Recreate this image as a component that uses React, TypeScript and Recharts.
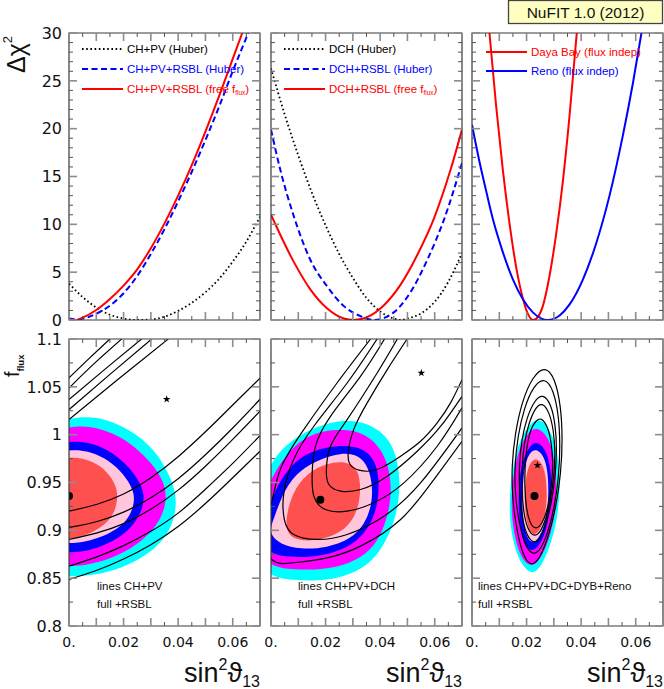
import React from "react";
import { ComposedChart, Line, Scatter, XAxis, YAxis, ReferenceArea } from "recharts";

type Pt = [number, number];

// ---------- top row: delta chi^2 vs sin^2 theta13 ----------
const chPvHuber: Pt[] = [[0, 3.8], [0.005, 2.4], [0.01, 1.3], [0.015, 0.55], [0.02, 0.15], [0.025, 0], [0.03, 0.05], [0.035, 0.35], [0.04, 0.95], [0.045, 1.8], [0.05, 2.9], [0.055, 4.3], [0.06, 6.1], [0.065, 8.2], [0.07, 10.8]];
const chPvRsblHuber: Pt[] = [[0, 0.15], [0.003, 0.05], [0.006, 0.2], [0.01, 0.65], [0.015, 1.5], [0.02, 2.8], [0.025, 4.6], [0.03, 6.9], [0.035, 9.5], [0.04, 12.4], [0.045, 15.5], [0.05, 18.8], [0.055, 22.3], [0.06, 26.0], [0.0657, 30]];
const chPvRsblFree: Pt[] = [[0, 0.05], [0.0025, 0], [0.005, 0.25], [0.01, 1.05], [0.015, 2.2], [0.02, 3.6], [0.025, 5.3], [0.03, 7.5], [0.035, 10.1], [0.04, 13.0], [0.045, 16.2], [0.05, 19.7], [0.055, 23.4], [0.06, 27.3], [0.0635, 30]];

const dchHuber: Pt[] = [[0, 26.3], [0.005, 21.5], [0.01, 17.2], [0.015, 13.3], [0.02, 9.9], [0.025, 6.9], [0.03, 4.4], [0.035, 2.3], [0.04, 0.9], [0.045, 0.15], [0.0475, 0], [0.05, 0.15], [0.055, 0.7], [0.06, 1.9], [0.065, 4.0], [0.07, 7.0]];
const dchRsblHuber: Pt[] = [[0, 19.9], [0.0035, 15.6], [0.0083, 10.9], [0.0144, 6.3], [0.0206, 3.5], [0.0267, 1.45], [0.0328, 0.4], [0.0377, 0], [0.045, 0.8], [0.0511, 2.9], [0.0573, 6.3], [0.0634, 10.5], [0.07, 16.4]];
const dchRsblFree: Pt[] = [[0, 11.0], [0.0083, 6.1], [0.0144, 3.2], [0.0206, 1.2], [0.0267, 0.16], [0.0303, 0], [0.0352, 0.3], [0.0414, 1.55], [0.0475, 3.7], [0.0536, 6.8], [0.0597, 10.6], [0.0658, 15.7], [0.07, 19.9]];

const dayaBay: Pt[] = [[0.0064, 30], [0.0088, 22.5], [0.0113, 15.7], [0.0137, 10.2], [0.0162, 5.5], [0.0186, 2.3], [0.0204, 0.7], [0.0225, 0], [0.0241, 0.3], [0.0259, 1.4], [0.0284, 4.6], [0.0308, 8.9], [0.0333, 14.5], [0.0357, 21.2], [0.0384, 30]];
const reno: Pt[] = [[0, 20.4], [0.0027, 16.6], [0.0051, 13.6], [0.0076, 10.6], [0.0113, 7.1], [0.0149, 4.3], [0.0186, 2.2], [0.0223, 0.8], [0.0278, 0], [0.0321, 0.47], [0.0357, 1.6], [0.0406, 4.2], [0.0455, 8.0], [0.0504, 13.0], [0.0553, 19.3], [0.059, 24.8], [0.0621, 30]];

// ---------- bottom row: f_flux vs sin^2 theta13 ----------
// panel 1: full +RSBL regions
const cyanP1: Pt[] = [[-0.015, 1.005], [0, 1.0175], [0.008, 1.019], [0.016, 1.014], [0.024, 1.002], [0.031, 0.985], [0.036, 0.963], [0.0395, 0.939], [0.039, 0.913], [0.035, 0.89], [0.028, 0.873], [0.019, 0.86], [0.009, 0.853], [0, 0.851], [-0.015, 0.856]];
const magentaP1: Pt[] = [[-0.015, 0.996], [0, 1.009], [0.008, 1.009], [0.016, 1.002], [0.023, 0.99], [0.029, 0.974], [0.034, 0.956], [0.036, 0.937], [0.0345, 0.916], [0.03, 0.897], [0.023, 0.881], [0.015, 0.87], [0.007, 0.864], [0, 0.862], [-0.015, 0.866]];
const blueP1: Pt[] = [[-0.015, 0.983], [0, 0.994], [0.007, 0.992], [0.014, 0.985], [0.02, 0.972], [0.0252, 0.955], [0.028, 0.937], [0.0265, 0.918], [0.0225, 0.901], [0.016, 0.888], [0.008, 0.879], [0, 0.876], [-0.015, 0.879]];
const pinkP1: Pt[] = [[-0.015, 0.976], [0, 0.985], [0.007, 0.983], [0.013, 0.976], [0.0188, 0.963], [0.0228, 0.947], [0.0243, 0.934], [0.0228, 0.917], [0.0192, 0.904], [0.013, 0.894], [0.006, 0.888], [0, 0.886], [-0.015, 0.888]];
const redP1: Pt[] = [[-0.015, 0.969], [0, 0.977], [0.006, 0.975], [0.0115, 0.968], [0.0158, 0.955], [0.0181, 0.94], [0.0173, 0.923], [0.0148, 0.91], [0.0097, 0.899], [0.004, 0.893], [0, 0.891], [-0.015, 0.893]];

// panel 1: CH+PV contour lines
const p1Up1: Pt[] = [[0, 1.0593], [0.0075, 1.08], [0.015, 1.1]];
const p1Up2: Pt[] = [[0, 1.0488], [0.0095, 1.075], [0.0193, 1.1]];
const p1Up3: Pt[] = [[0, 1.0367], [0.013, 1.068], [0.0266, 1.1]];
const p1Up4: Pt[] = [[0, 1.0262], [0.015, 1.063], [0.0303, 1.1]];
const p1Up5: Pt[] = [[0, 1.0158], [0.018, 1.058], [0.0364, 1.1]];
const p1Lo1: Pt[] = [[0, 0.92], [0.01, 0.927], [0.02, 0.938], [0.03, 0.955], [0.04, 0.977], [0.05, 1.003], [0.06, 1.031], [0.07, 1.059]];
const p1Lo2: Pt[] = [[0, 0.903], [0.01, 0.909], [0.02, 0.919], [0.03, 0.934], [0.04, 0.954], [0.05, 0.979], [0.06, 1.007], [0.07, 1.037]];
const p1Lo3: Pt[] = [[0, 0.8905], [0.01, 0.897], [0.02, 0.907], [0.03, 0.922], [0.04, 0.942], [0.05, 0.967], [0.06, 0.995], [0.07, 1.0245]];
const p1Lo4: Pt[] = [[0, 0.8626], [0.01, 0.872], [0.02, 0.884], [0.03, 0.899], [0.04, 0.918], [0.05, 0.943], [0.06, 0.97], [0.07, 0.999]];
const p1Lo5: Pt[] = [[0, 0.8487], [0.01, 0.858], [0.02, 0.87], [0.03, 0.885], [0.04, 0.904], [0.05, 0.928], [0.06, 0.955], [0.07, 0.9827]];
const p1Best: Pt[] = [[0, 0.936]];
const p1Star: Pt[] = [[0.0358, 1.037]];

// panel 2: full +RSBL regions
const cyanP2: Pt[] = [[-0.006, 0.93], [0, 0.972], [0.0059, 0.991], [0.0144, 1.006], [0.023, 1.014], [0.0303, 1.015], [0.0368, 1.01], [0.0425, 0.998], [0.0457, 0.981], [0.0472, 0.957], [0.047, 0.932], [0.045, 0.907], [0.0412, 0.883], [0.0355, 0.863], [0.0267, 0.851], [0.0169, 0.847], [0.0083, 0.848], [0, 0.851], [-0.006, 0.87]];
const magentaP2: Pt[] = [[-0.006, 0.91], [0, 0.9566], [0.0083, 0.99], [0.0169, 1.003], [0.0242, 1.0055], [0.0316, 1.0045], [0.038, 0.994], [0.0425, 0.974], [0.0441, 0.9496], [0.0437, 0.9253], [0.0411, 0.9], [0.0368, 0.879], [0.0291, 0.865], [0.0193, 0.8588], [0.0083, 0.8588], [0, 0.8616], [-0.006, 0.88]];
const blueP2: Pt[] = [[-0.005, 0.9], [0, 0.9305], [0.0034, 0.9531], [0.0095, 0.9745], [0.0169, 0.985], [0.0255, 0.9893], [0.0331, 0.987], [0.0381, 0.9745], [0.0397, 0.9531], [0.0392, 0.9288], [0.0369, 0.9075], [0.0318, 0.888], [0.023, 0.8758], [0.0132, 0.8717], [0.0047, 0.8724], [0, 0.876], [-0.005, 0.89]];
const pinkP2: Pt[] = [[0.001, 0.9113], [0.0047, 0.9427], [0.0108, 0.9636], [0.0181, 0.9747], [0.0255, 0.981], [0.0322, 0.9792], [0.0359, 0.9653], [0.0373, 0.9444], [0.0368, 0.9253], [0.0343, 0.9061], [0.0291, 0.8905], [0.0206, 0.8818], [0.0108, 0.88], [0.0034, 0.8852], [-0.001, 0.8974]];
const redP2: Pt[] = [[0.0053, 0.9113], [0.0077, 0.9392], [0.0132, 0.9601], [0.0206, 0.9705], [0.0273, 0.9723], [0.0316, 0.9653], [0.0328, 0.9496], [0.0326, 0.9305], [0.0303, 0.9113], [0.0255, 0.8974], [0.0181, 0.8898], [0.0102, 0.8887], [0.0059, 0.8957]];

// panel 2: CH+PV+DCH contour lines
const p2LineA: Pt[] = [[0.0499, 1.1], [0.0426, 1.068], [0.0352, 1.033], [0.0303, 1.0053], [0.0283, 0.981], [0.029, 0.9688], [0.0322, 0.9629], [0.0389, 0.9636], [0.0475, 0.9775], [0.0548, 0.9931], [0.0609, 1.0123], [0.0658, 1.0332], [0.07, 1.0575]];
const p2LineB: Pt[] = [[0.0463, 1.1], [0.0389, 1.0645], [0.0279, 1.0158], [0.0218, 0.9879], [0.0203, 0.9636], [0.0212, 0.9479], [0.0255, 0.941], [0.0328, 0.9427], [0.0426, 0.9566], [0.0536, 0.9827], [0.0622, 1.0088], [0.07, 1.0401]];
const p2LineC: Pt[] = [[0.0416, 1.1], [0.0328, 1.061], [0.0218, 1.0192], [0.0163, 0.9879], [0.0151, 0.9601], [0.0157, 0.9357], [0.0199, 0.9218], [0.0279, 0.92], [0.0377, 0.9288], [0.0487, 0.9496], [0.0609, 0.9879], [0.07, 1.028]];
const p2LineD: Pt[] = [[0.0389, 1.1], [0.0279, 1.054], [0.0157, 1.0088], [0.0083, 0.974], [0.0047, 0.9392], [0.0049, 0.9113], [0.0083, 0.8957], [0.0169, 0.8905], [0.0279, 0.8957], [0.0414, 0.9148], [0.0548, 0.9496], [0.07, 1.0071]];
const p2LineE: Pt[] = [[0.0365, 1.1], [0.0242, 1.054], [0.012, 1.0053], [0.0034, 0.9636], [0, 0.927], [-0.003, 0.9], [0, 0.8703], [0.0083, 0.8661], [0.0206, 0.8713], [0.0328, 0.8835], [0.0475, 0.9113], [0.0597, 0.9531], [0.07, 0.9931]];
const p2Best: Pt[] = [[0.0181, 0.932]];
const p2Star: Pt[] = [[0.0551, 1.0645]];

// panel 3: full +RSBL regions
const cyanP3: Pt[] = [[0.0253, 1.0175], [0.0292, 1.0025], [0.0314, 0.981], [0.0322, 0.9566], [0.032, 0.9288], [0.0305, 0.9009], [0.0276, 0.8755], [0.0242, 0.857], [0.0212, 0.855], [0.0177, 0.8655], [0.0151, 0.887], [0.0138, 0.9113], [0.0138, 0.9392], [0.0151, 0.9705], [0.0177, 0.996], [0.0216, 1.0135]];
const magentaP3: Pt[] = [[0.0241, 1.0075], [0.0276, 0.999], [0.0299, 0.981], [0.031, 0.9531], [0.0308, 0.9253], [0.0293, 0.9009], [0.0268, 0.879], [0.0236, 0.8645], [0.0212, 0.8625], [0.0181, 0.8705], [0.0158, 0.8905], [0.0145, 0.9148], [0.0145, 0.9427], [0.0158, 0.9705], [0.0183, 0.992], [0.0212, 1.0045]];
const blueP3: Pt[] = [[0.0237, 0.9935], [0.0268, 0.9855], [0.0285, 0.9705], [0.0292, 0.9496], [0.0288, 0.9253], [0.0275, 0.9035], [0.0252, 0.8855], [0.0223, 0.8775], [0.0195, 0.882], [0.0177, 0.9009], [0.017, 0.9253], [0.0172, 0.9496], [0.0183, 0.9715], [0.0209, 0.9875]];
const pinkP3: Pt[] = [[0.0235, 0.9852], [0.0262, 0.9785], [0.0277, 0.9636], [0.0281, 0.9427], [0.0277, 0.9218], [0.0264, 0.9035], [0.0243, 0.891], [0.0223, 0.8865], [0.0202, 0.891], [0.0189, 0.9079], [0.0183, 0.9288], [0.0187, 0.9531], [0.0196, 0.9715], [0.0214, 0.9822]];
const redP3: Pt[] = [[0.0237, 0.9755], [0.0262, 0.968], [0.0272, 0.9531], [0.0275, 0.9357], [0.027, 0.9183], [0.0255, 0.9035], [0.0235, 0.8955], [0.0216, 0.8962], [0.02, 0.9079], [0.0193, 0.9253], [0.0194, 0.9462], [0.0202, 0.9625], [0.0217, 0.9725]];

// panel 3: CH+PV+DC+DYB+Reno contour lines (closed)
const p3Ell1: Pt[] = [[0.0269, 1.072], [0.0304, 1.059], [0.0326, 1.0297], [0.0332, 0.9949], [0.0326, 0.9601], [0.0309, 0.9253], [0.028, 0.893], [0.0248, 0.87], [0.022, 0.8625], [0.0191, 0.87], [0.0165, 0.8974], [0.0148, 0.9322], [0.0145, 0.967], [0.0158, 1.0018], [0.0183, 1.0345], [0.0222, 1.061]];
const p3Ell2: Pt[] = [[0.0266, 1.06], [0.0299, 1.047], [0.0318, 1.02], [0.0323, 0.99], [0.0319, 0.958], [0.0303, 0.925], [0.0277, 0.896], [0.0248, 0.878], [0.0222, 0.8745], [0.0196, 0.883], [0.0174, 0.905], [0.0158, 0.936], [0.0156, 0.967], [0.0168, 0.999], [0.0191, 1.028], [0.0225, 1.051]];
const p3Ell3: Pt[] = [[0.026, 1.043], [0.029, 1.032], [0.0306, 1.01], [0.0311, 0.985], [0.0306, 0.958], [0.0292, 0.929], [0.027, 0.904], [0.0246, 0.889], [0.0224, 0.8867], [0.0201, 0.894], [0.0182, 0.914], [0.0173, 0.94], [0.0173, 0.967], [0.0181, 0.994], [0.0201, 1.018], [0.0229, 1.036]];
const p3Ell4: Pt[] = [[0.0257, 1.034], [0.0283, 1.024], [0.0299, 1.005], [0.0305, 0.982], [0.0301, 0.957], [0.0288, 0.931], [0.0268, 0.909], [0.0246, 0.896], [0.0227, 0.8937], [0.0205, 0.9], [0.0189, 0.918], [0.0183, 0.94], [0.0183, 0.965], [0.019, 0.99], [0.0207, 1.011], [0.0231, 1.028]];
const p3Ell5: Pt[] = [[0.0254, 1.018], [0.0277, 1.009], [0.0291, 0.992], [0.0297, 0.972], [0.0293, 0.95], [0.0282, 0.928], [0.0264, 0.911], [0.0246, 0.903], [0.0229, 0.9017], [0.0211, 0.908], [0.0198, 0.924], [0.0193, 0.945], [0.0194, 0.967], [0.0201, 0.989], [0.0215, 1.006], [0.0235, 1.015]];
const p3Best: Pt[] = [[0.0229, 0.936]];
const p3Star: Pt[] = [[0.024, 0.968]];

// ---------- axes ----------
const X_DOMAIN: [number, number] = [0, 0.07];
const X_TICKS = [0, 0.005, 0.01, 0.015, 0.02, 0.025, 0.03, 0.035, 0.04, 0.045, 0.05, 0.055, 0.06, 0.065, 0.07];
const X_MAJOR = [0, 0.01, 0.02, 0.03, 0.04, 0.05, 0.06, 0.07];
const X_LABELS: Record<string, string> = { "0": "0.", "0.02": "0.02", "0.04": "0.04", "0.06": "0.06" };

const CHI_DOMAIN: [number, number] = [0, 30];
const CHI_TICKS = [0, 1, 2, 3, 4, 5, 6, 7, 8, 9, 10, 11, 12, 13, 14, 15, 16, 17, 18, 19, 20, 21, 22, 23, 24, 25, 26, 27, 28, 29, 30];
const CHI_MAJOR = [0, 5, 10, 15, 20, 25, 30];
const CHI_LABELS: Record<string, string> = { "0": "0", "5": "5", "10": "10", "15": "15", "20": "20", "25": "25", "30": "30" };

const FLUX_DOMAIN: [number, number] = [0.8, 1.1];
const FLUX_TICKS = [0.8, 0.825, 0.85, 0.875, 0.9, 0.925, 0.95, 0.975, 1, 1.025, 1.05, 1.075, 1.1];
const FLUX_MAJOR = [0.8, 0.85, 0.9, 0.95, 1, 1.05, 1.1];
const FLUX_LABELS: Record<string, string> = { "0.8": "0.8", "0.85": "0.85", "0.9": "0.9", "0.95": "0.95", "1": "1", "1.05": "1.05", "1.1": "1.1" };

// ---------- geometry ----------
const PW = 191;
const PH = 287;
const M = { top: 12, right: 8, bottom: 36, left: 62 };
// overlay axes take 1px each, so shave that off the margins
const M_AX = { top: M.top, right: M.right, bottom: M.bottom - 1, left: M.left - 1 };
const CW = M.left + PW + M.right;
const CHGT = M.top + PH + M.bottom;
const COLS = [69, 271, 472];
const ROWS = [33, 339];

const P = (a: Pt[]) => a.map(([x, y]) => ({ x, y }));
const Empty = () => <g />;

function XTick(props: any) {
  const { x, payload, labels } = props;
  const v = payload.value;
  const major = X_MAJOR.includes(v);
  const len = major ? 8 : 4;
  const bottom = M.top + PH;
  const label = labels ? labels[String(v)] : undefined;
  const st = major ? { stroke: "#8c8c8c", strokeWidth: 1.6 } : { stroke: "#555", strokeWidth: 1 };
  return (
    <g>
      <line x1={x} x2={x} y1={bottom} y2={bottom - len} {...st} />
      <line x1={x} x2={x} y1={M.top} y2={M.top + len} {...st} />
      {label && (
        <text x={x} y={bottom + 21} textAnchor="middle" fontFamily="DejaVu Sans" fontSize={14} fill="#111">
          {label}
        </text>
      )}
    </g>
  );
}

function YTick(props: any) {
  const { y, payload, labels, major } = props;
  const v = payload.value;
  const isMajor = major.includes(v);
  const len = isMajor ? 8 : 4;
  const right = M.left + PW;
  const label = labels ? labels[String(v)] : undefined;
  const st = isMajor ? { stroke: "#8c8c8c", strokeWidth: 1.6 } : { stroke: "#555", strokeWidth: 1 };
  return (
    <g>
      <line x1={M.left} x2={M.left + len} y1={y} y2={y} {...st} />
      <line x1={right} x2={right - len} y1={y} y2={y} {...st} />
      {label && (
        <text x={M.left - 7} y={y} dy="0.36em" textAnchor="end" fontFamily="DejaVu Sans" fontSize={16} fill="#111">
          {label}
        </text>
      )}
    </g>
  );
}

function StarShape(p: any) {
  const { cx, cy } = p;
  let d = "";
  for (let i = 0; i < 10; i++) {
    const r = i % 2 ? 1.6 : 4;
    const a = -Math.PI / 2 + (i * Math.PI) / 5;
    d += (i ? "L" : "M") + (cx + r * Math.cos(a)).toFixed(2) + "," + (cy + r * Math.sin(a)).toFixed(2);
  }
  return <path d={d + "Z"} fill="#000" />;
}
const DotShape = (p: any) => <circle cx={p.cx} cy={p.cy} r={4} fill="#000" />;

function Panel(props: {
  col: number;
  row: number;
  yDomain: [number, number];
  yTicks: number[];
  yMajor: number[];
  yLabels?: Record<string, string>;
  xLabels?: Record<string, string>;
  children: React.ReactNode;
}) {
  const { col, row, yDomain, yTicks, yMajor, yLabels, xLabels, children } = props;
  const pos: React.CSSProperties = { position: "absolute", left: COLS[col] - M.left, top: ROWS[row] - M.top };
  return (
    <>
      <div style={pos}>
        <ComposedChart width={CW} height={CHGT} margin={M}>
          <XAxis type="number" dataKey="x" domain={X_DOMAIN} allowDataOverflow hide />
          <YAxis type="number" dataKey="y" domain={yDomain} allowDataOverflow hide />
          {children}
        </ComposedChart>
      </div>
      {/* frame and inward ticks drawn on top of the data */}
      <div style={pos}>
        <ComposedChart width={CW} height={CHGT} margin={M_AX}>
          <XAxis
            type="number"
            dataKey="x"
            domain={X_DOMAIN}
            allowDataOverflow
            ticks={X_TICKS}
            interval={0}
            height={1}
            axisLine={false}
            tickLine={false}
            tick={(p: any) => <XTick {...p} labels={xLabels} />}
          />
          <YAxis
            type="number"
            dataKey="y"
            domain={yDomain}
            allowDataOverflow
            ticks={yTicks}
            interval={0}
            width={1}
            axisLine={false}
            tickLine={false}
            tick={(p: any) => <YTick {...p} labels={yLabels} major={yMajor} />}
          />
          <ReferenceArea x1={0} x2={0.07} y1={yDomain[0]} y2={yDomain[1]} fill="none" stroke="#3a3a3a" strokeWidth={1.2} ifOverflow="visible" />
        </ComposedChart>
      </div>
    </>
  );
}

const curve = (d: Pt[], color: string, dash?: string, w = 2) => (
  <Line
    data={P(d)}
    dataKey="y"
    type="monotone"
    stroke={color}
    strokeWidth={w}
    strokeDasharray={dash}
    dot={false}
    isAnimationActive={false}
  />
);

const region = (d: Pt[], color: string) => (
  <Scatter
    data={P(d)}
    fill={color}
    line={{ fill: color, stroke: "none" }}
    lineJointType="basisClosed"
    shape={Empty}
    isAnimationActive={false}
  />
);

const contour = (d: Pt[], closed = false) => (
  <Scatter
    data={P(d)}
    fill="#000"
    line={{ stroke: "#000", strokeWidth: 1.2, fill: "none" }}
    lineJointType={closed ? "basisClosed" : "natural"}
    shape={Empty}
    isAnimationActive={false}
  />
);

const marker = (d: Pt[], star: boolean) => (
  <Scatter data={P(d)} fill="#000" shape={star ? StarShape : DotShape} isAnimationActive={false} />
);

const CYAN = "#00ffff";
const MAGENTA = "#ff00ff";
const BLUE = "#0000ff";
const PINK = "#ffc6dc";
const SALMON = "#ff5050";

const TXT = "Liberation Sans, Arial, sans-serif";

function LegendRow({ x, y, color, dash, children }: any) {
  return (
    <g>
      <line x1={x} x2={x + 41} y1={y} y2={y} stroke={color} strokeWidth={2} strokeDasharray={dash} />
      <text x={x + 45} y={y + 4} fontSize={11.5} fill={color} fontFamily={TXT}>
        {children}
      </text>
    </g>
  );
}

const Flux = () => (
  <>
    <tspan fontSize={6.5} dy={2}>flux</tspan>
    <tspan dy={-2}>)</tspan>
  </>
);

export default function App() {
  return (
    <div style={{ position: "absolute", left: 0, top: 0, width: 664, height: 689, background: "#fff", overflow: "hidden" }}>
      <Panel col={0} row={0} yDomain={CHI_DOMAIN} yTicks={CHI_TICKS} yMajor={CHI_MAJOR} yLabels={CHI_LABELS}>
        {curve(chPvHuber, "#000", "1.6 2.6", 1.8)}
        {curve(chPvRsblHuber, BLUE, "6 3.5")}
        {curve(chPvRsblFree, "#ff0000")}
      </Panel>
      <Panel col={1} row={0} yDomain={CHI_DOMAIN} yTicks={CHI_TICKS} yMajor={CHI_MAJOR}>
        {curve(dchHuber, "#000", "1.6 2.6", 1.8)}
        {curve(dchRsblHuber, BLUE, "6 3.5")}
        {curve(dchRsblFree, "#ff0000")}
      </Panel>
      <Panel col={2} row={0} yDomain={CHI_DOMAIN} yTicks={CHI_TICKS} yMajor={CHI_MAJOR}>
        {curve(dayaBay, "#ff0000")}
        {curve(reno, BLUE)}
      </Panel>

      <Panel col={0} row={1} yDomain={FLUX_DOMAIN} yTicks={FLUX_TICKS} yMajor={FLUX_MAJOR} yLabels={FLUX_LABELS} xLabels={X_LABELS}>
        {region(cyanP1, CYAN)}
        {region(magentaP1, MAGENTA)}
        {region(blueP1, BLUE)}
        {region(pinkP1, PINK)}
        {region(redP1, SALMON)}
        {contour(p1Up1)}
        {contour(p1Up2)}
        {contour(p1Up3)}
        {contour(p1Up4)}
        {contour(p1Up5)}
        {contour(p1Lo1)}
        {contour(p1Lo2)}
        {contour(p1Lo3)}
        {contour(p1Lo4)}
        {contour(p1Lo5)}
        {marker(p1Best, false)}
        {marker(p1Star, true)}
      </Panel>
      <Panel col={1} row={1} yDomain={FLUX_DOMAIN} yTicks={FLUX_TICKS} yMajor={FLUX_MAJOR} xLabels={X_LABELS}>
        {region(cyanP2, CYAN)}
        {region(magentaP2, MAGENTA)}
        {region(blueP2, BLUE)}
        {region(pinkP2, PINK)}
        {region(redP2, SALMON)}
        {contour(p2LineA)}
        {contour(p2LineB)}
        {contour(p2LineC)}
        {contour(p2LineD)}
        {contour(p2LineE)}
        {marker(p2Best, false)}
        {marker(p2Star, true)}
      </Panel>
      <Panel col={2} row={1} yDomain={FLUX_DOMAIN} yTicks={FLUX_TICKS} yMajor={FLUX_MAJOR} xLabels={X_LABELS}>
        {region(cyanP3, CYAN)}
        {region(magentaP3, MAGENTA)}
        {region(blueP3, BLUE)}
        {region(pinkP3, PINK)}
        {region(redP3, SALMON)}
        {contour(p3Ell1, true)}
        {contour(p3Ell2, true)}
        {contour(p3Ell3, true)}
        {contour(p3Ell4, true)}
        {contour(p3Ell5, true)}
        {marker(p3Best, false)}
        {marker(p3Star, true)}
      </Panel>

      <svg width={664} height={689} style={{ position: "absolute", left: 0, top: 0, pointerEvents: "none" }} fontFamily={TXT}>
        <rect x={508.5} y={0.5} width={154} height={23} fill="#ffffc2" stroke="#444" strokeWidth={1.3} />
        <text x={585.5} y={18} textAnchor="middle" fontSize={15.5} fill="#111">NuFIT 1.0 (2012)</text>

        <LegendRow x={82} y={49} color="#000" dash="1.6 2.6">CH+PV (Huber)</LegendRow>
        <LegendRow x={82} y={69} color={BLUE} dash="6 3.5">CH+PV+RSBL (Huber)</LegendRow>
        <LegendRow x={82} y={89} color="#ff0000">CH+PV+RSBL (free f<Flux /></LegendRow>

        <LegendRow x={284} y={49} color="#000" dash="1.6 2.6">DCH (Huber)</LegendRow>
        <LegendRow x={284} y={69} color={BLUE} dash="6 3.5">DCH+RSBL (Huber)</LegendRow>
        <LegendRow x={284} y={89} color="#ff0000">DCH+RSBL (free f<Flux /></LegendRow>

        <LegendRow x={486} y={52} color="#ff0000">Daya Bay (flux indep)</LegendRow>
        <LegendRow x={486} y={71} color={BLUE}>Reno (flux indep)</LegendRow>

        <text x={97} y={590} fontSize={11.5} fill="#111">lines CH+PV</text>
        <text x={97} y={608} fontSize={11.5} fill="#111">full +RSBL</text>
        <text x={298} y={590} fontSize={11.5} fill="#111">lines CH+PV+DCH</text>
        <text x={298} y={608} fontSize={11.5} fill="#111">full +RSBL</text>
        <text x={478} y={590} fontSize={11.5} fill="#111">lines CH+PV+DC+DYB+Reno</text>
        <text x={478} y={608} fontSize={11.5} fill="#111">full +RSBL</text>

        <text transform="translate(25,73) rotate(-90)" fontSize={25} fill="#111">
          Δχ<tspan fontSize={13} dy={-13}>2</tspan>
        </text>
        <text transform="translate(19,377) rotate(-90)" fontSize={20} fill="#111">
          f<tspan fontSize={9.5} dy={5} fontWeight="bold">flux</tspan>
        </text>

        {[260, 462, 663].map((xr) => (
          <text key={xr} x={xr} y={682} textAnchor="end" fontSize={27} fill="#111">
            sin<tspan fontSize={16} dy={-12}>2</tspan>
            <tspan dy={12}>ϑ</tspan>
            <tspan fontSize={16} dy={5}>13</tspan>
          </text>
        ))}
      </svg>
    </div>
  );
}
